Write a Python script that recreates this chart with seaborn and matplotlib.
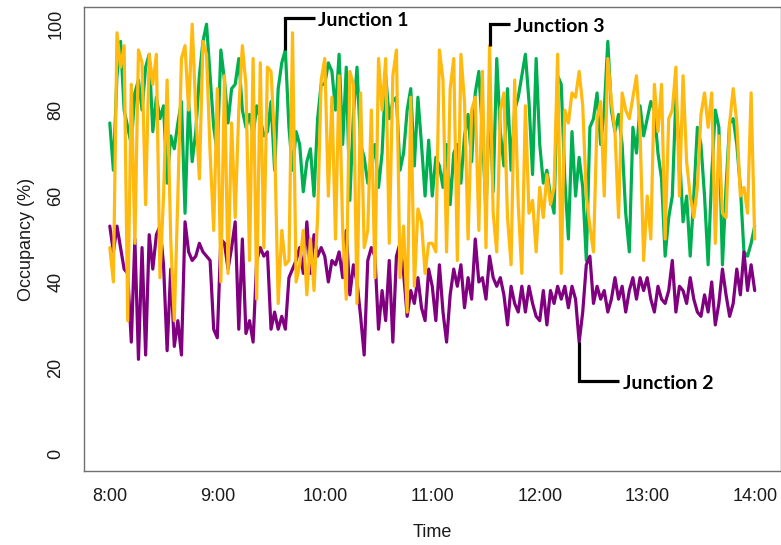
import matplotlib
matplotlib.use("Agg")
import matplotlib.pyplot as plt
import pandas as pd
import seaborn as sns

# Sampling times, minutes after 8:00 (two-minute interval)
minutes = list(range(0, 361, 2))

# Occupancy (%) per junction
junction1 = [
    77, 66, 88, 96, 80, 76, 72, 84, 87, 80, 90, 93, 75, 83, 78, 81, 63, 74, 71, 77,
    82, 56, 82, 68, 75, 88, 96, 100, 88, 76,
    70, 94, 87, 77, 85, 86, 92, 80, 76, 79, 74, 81, 78, 74, 75, 82, 66, 85, 91, 94,
    76, 66, 75, 72, 61, 68, 71, 60, 78, 86,
    86, 91, 89, 80, 93, 72, 90, 59, 79, 90, 72, 69, 63, 67, 72, 62, 70, 88, 78, 82,
    83, 66, 70, 80, 85, 67, 83, 72, 60, 73,
    60, 69, 67, 62, 72, 58, 70, 72, 63, 74, 79, 68, 84, 89, 75, 56, 83, 61, 92, 75,
    67, 85, 66, 80, 83, 88, 93, 82, 65, 92,
    72, 63, 66, 60, 56, 88, 86, 64, 50, 75, 60, 69, 62, 45, 76, 78, 84, 72, 80, 96,
    80, 75, 79, 72, 56, 47, 76, 70, 81, 74,
    78, 82, 80, 70, 64, 46, 55, 60, 83, 70, 54, 60, 46, 60, 76, 72, 60, 44, 65, 80,
    76, 44, 62, 77, 78, 72, 62, 47, 46, 49, 53,
]

junction2 = [
    53, 47, 53, 48, 43, 42, 26, 50, 22, 48, 23, 51, 43, 51, 53, 44, 24, 43, 25, 31,
    23, 54, 47, 45, 46, 49, 47, 46, 45, 29,
    27, 50, 49, 43, 48, 54, 29, 50, 28, 31, 26, 45, 48, 46, 47, 29, 33, 29, 32, 29,
    41, 43, 45, 48, 42, 54, 42, 51, 46, 48,
    46, 40, 45, 44, 47, 41, 52, 37, 44, 40, 32, 23, 45, 48, 46, 29, 38, 31, 45, 26,
    46, 49, 42, 32, 38, 35, 41, 34, 31, 43,
    39, 31, 44, 33, 26, 37, 43, 39, 44, 34, 41, 36, 50, 40, 41, 36, 46, 41, 39, 41,
    37, 30, 39, 35, 33, 39, 33, 39, 35, 32,
    31, 38, 30, 38, 35, 39, 36, 39, 34, 39, 36, 26, 33, 44, 46, 35, 39, 36, 38, 33,
    36, 41, 36, 39, 33, 38, 41, 36, 41, 38,
    41, 36, 33, 39, 36, 35, 38, 45, 33, 39, 38, 35, 41, 36, 33, 32, 37, 33, 40, 30,
    35, 43, 37, 32, 35, 43, 37, 47, 38, 44, 38,
]

junction3 = [
    48, 40, 98, 90, 95, 31, 86, 49, 94, 91, 58, 93, 86, 93, 41, 60, 87, 50, 31, 60,
    92, 95, 80, 100, 80, 64, 96, 93, 70, 52,
    85, 40, 88, 42, 77, 55, 80, 95, 86, 45, 92, 36, 91, 48, 90, 89, 73, 35, 52, 44,
    45, 98, 40, 44, 52, 37, 50, 38, 55, 87,
    92, 60, 83, 50, 88, 52, 36, 89, 86, 35, 84, 48, 52, 80, 41, 92, 80, 92, 49, 88,
    94, 41, 53, 33, 83, 39, 57, 54, 42, 49,
    49, 47, 94, 87, 47, 85, 92, 45, 93, 82, 50, 80, 83, 52, 89, 48, 95, 56, 47, 80,
    84, 55, 44, 87, 58, 42, 81, 56, 59, 47,
    62, 55, 65, 58, 62, 93, 42, 80, 77, 84, 83, 89, 81, 60, 53, 47, 78, 82, 60, 92,
    82, 75, 55, 84, 80, 78, 83, 88, 75, 45,
    60, 50, 86, 75, 86, 50, 78, 80, 90, 60, 88, 68, 60, 55, 62, 79, 84, 76, 84, 49,
    74, 56, 55, 77, 85, 77, 60, 62, 56, 84, 50,
]

series_names = ["Junction 1", "Junction 2", "Junction 3"]
series_colors = ["#00B050", "#800080", "#FFB90F"]

tick_minutes = [0, 60, 120, 180, 240, 300, 360]
tick_labels = ["8:00", "9:00", "10:00", "11:00", "12:00", "13:00", "14:00"]
y_ticks = [0, 20, 40, 60, 80, 100]

df = pd.concat(
    [
        pd.DataFrame({"minute": minutes, "occupancy": vals, "junction": name})
        for name, vals in zip(series_names, [junction1, junction2, junction3])
    ],
    ignore_index=True,
)

sns.set_style("white")
plt.rcParams["font.family"] = ["Liberation Sans", "DejaVu Sans"]

W, H = 781, 545
fig = plt.figure(figsize=(W / 100, H / 100), dpi=100)
ax = fig.add_axes([84 / W, 1 - 471 / H, (780.5 - 84) / W, (471 - 7) / H])

sns.lineplot(
    data=df, x="minute", y="occupancy", hue="junction",
    hue_order=series_names, palette=series_colors,
    linewidth=2.3, estimator=None, legend=False, ax=ax,
)

ax.set_xlim(-14.4, 374.4)
ax.set_ylim(-4, 104)
ax.set_xticks(tick_minutes)
ax.set_xticklabels(tick_labels)
ax.set_yticks(y_ticks)
ax.set_yticklabels([str(v) for v in y_ticks], rotation=90, va="center")

axis_grey = "#707070"
for sp in ax.spines.values():
    sp.set_visible(True)
    sp.set_color(axis_grey)
    sp.set_linewidth(1.0)
ax.tick_params(axis="both", direction="out", length=7, width=1.0,
               color=axis_grey, labelsize=13, labelcolor="#1a1a1a", pad=5)
ax.tick_params(axis="y", pad=7)

ax.set_xlabel("Time", fontsize=13, color="#1a1a1a")
ax.set_ylabel("Occupancy (%)", fontsize=13, color="#1a1a1a")
ax.xaxis.set_label_coords(0.5, -0.115)
ax.yaxis.set_label_coords(-0.071, 0.5)

# Leader brackets: (label, series, minute, elbow y, arm length in minutes)
lookup = dict(zip(series_names, [junction1, junction2, junction3]))
callouts = [
    ("Junction 1", "Junction 1", 98, 101.4, 16.3),
    ("Junction 3", "Junction 3", 212, 100.0, 11.5),
    ("Junction 2", "Junction 2", 262, 16.9, 22.3),
]
for label, series, m, y_elbow, arm in callouts:
    y0 = lookup[series][minutes.index(m)]
    ax.plot([m, m, m + arm], [y0, y_elbow, y_elbow], color="black",
            linewidth=2.3, solid_joinstyle="miter", solid_capstyle="butt",
            clip_on=False, zorder=5)
    ax.text(m + arm + 2.2, y_elbow - 0.6, label, fontsize=14,
            fontweight="bold", family=["Lato", "DejaVu Sans"],
            ha="left", va="center", color="black", zorder=6)

fig.savefig("out.png", dpi=100)
